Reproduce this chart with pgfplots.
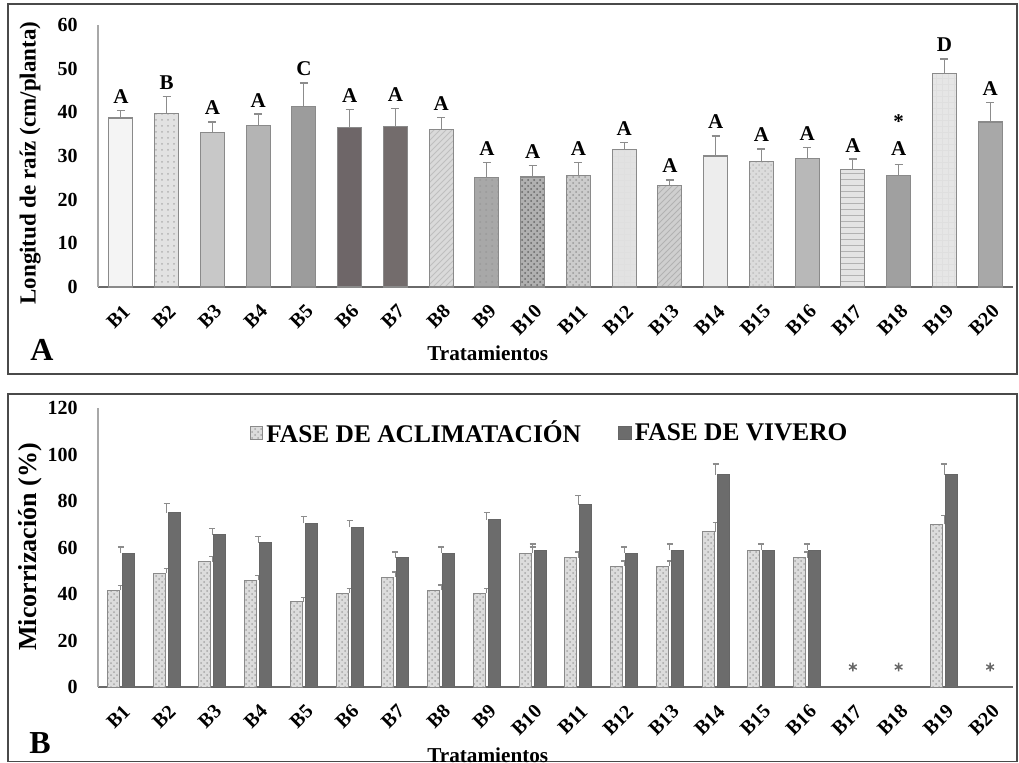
\documentclass[border=0pt]{standalone}
\usepackage{fontspec}
\setmainfont{Liberation Serif}
\usepackage{pgfplots}
\pgfplotsset{compat=1.18}
\usetikzlibrary{patterns}
\definecolor{framec}{HTML}{4A4A4A}
\definecolor{barline}{HTML}{8A8A8A}
\definecolor{errc}{HTML}{8C8C8C}
\definecolor{xaxc}{HTML}{6A6A6A}
\definecolor{yaxc}{HTML}{A8A8A8}
\definecolor{c01}{HTML}{F4F4F4}
\definecolor{c02}{HTML}{E2E2E2}
\definecolor{c03}{HTML}{C8C8C8}
\definecolor{c04}{HTML}{B4B4B4}
\definecolor{c05}{HTML}{9C9C9C}
\definecolor{c06}{HTML}{6E6668}
\definecolor{c07}{HTML}{736C6C}
\definecolor{c08}{HTML}{DADADA}
\definecolor{c09}{HTML}{A8A8A8}
\definecolor{c10}{HTML}{B0B0B0}
\definecolor{c11}{HTML}{CCCCCC}
\definecolor{c12}{HTML}{E2E2E2}
\definecolor{c13}{HTML}{CFCFCF}
\definecolor{c14}{HTML}{EDEDED}
\definecolor{c15}{HTML}{DCDCDC}
\definecolor{c16}{HTML}{B8B8B8}
\definecolor{c17}{HTML}{E4E4E4}
\definecolor{c18}{HTML}{A0A0A0}
\definecolor{c19}{HTML}{E6E6E6}
\definecolor{c20}{HTML}{A8A8A8}
\definecolor{lightB}{HTML}{DCDCDC}
\definecolor{darkB}{HTML}{6C6C6C}
\pgfplotsset{
  panel/.style={
    scale only axis, width=457.5pt, xmin=0.5, xmax=20.5, ymin=0,
    axis x line*=bottom, axis y line*=left,
    x axis line style={xaxc, line width=0.8pt, -},
    y axis line style={yaxc, line width=0.6pt, -},
    major tick length=0pt,
    xtick={1,...,20},
    xticklabels={B1,B2,B3,B4,B5,B6,B7,B8,B9,B10,B11,B12,B13,B14,B15,B16,B17,B18,B19,B20},
    /pgf/number format/assume math mode=true,
    yticklabel style={font=\bfseries\fontsize{10}{12}\selectfont, inner sep=0pt, anchor=east, xshift=-10pt},
    xticklabel style={font=\bfseries\fontsize{10}{12}\selectfont, inner sep=0pt, xshift=3pt, yshift=-10.5pt, rotate=45, anchor=east},
    clip=false,
  },
  bA/.style={ybar, bar width=12pt, bar shift=0pt, draw=barline, line width=0.6pt,
    error bars/y dir=plus, error bars/y explicit,
    error bars/error bar style={errc, line width=0.6pt},
    error bars/error mark options={rotate=90, errc, mark size=2pt, line width=0.6pt}},
  bB/.style={ybar, bar width=6pt, line width=0.5pt,
    error bars/y dir=plus, error bars/y explicit,
    error bars/error bar style={errc, line width=0.6pt},
    error bars/error mark options={rotate=90, errc, mark size=1.5pt, line width=0.6pt}},
  sqlegend/.style={legend image code/.code={\draw[##1] (0pt,-3.2pt) rectangle (6.4pt,3.2pt);}},
}
\pgfplotstableread{
x light dark el ed
1 41.7 57.6 2.0 2.6
2 49.0 75.0 2.0 3.9
3 53.8 65.4 2.2 2.8
4 46.0 62.0 2.0 2.8
5 36.6 70.5 1.8 3.0
6 40.4 68.8 1.8 2.8
7 47.3 55.5 2.2 2.6
8 41.7 57.6 2.2 2.6
9 40.4 72.0 1.8 3.0
10 57.6 58.9 2.6 2.6
11 55.5 78.3 2.6 3.9
12 52.0 57.6 2.2 2.6
13 52.0 58.9 2.2 2.6
14 66.7 91.2 3.9 4.7
15 58.9 58.9 2.6 2.6
16 55.5 58.9 2.6 2.6
19 70.0 91.2 3.9 4.7
}\micB
\begin{document}
\begin{tikzpicture}
\path[use as bounding box] (0,0) rectangle (509.5pt,-381pt);
\draw[framec, line width=0.8pt] (4pt,-2pt) rectangle (508.5pt,-187pt);
\draw[framec, line width=0.8pt] (4pt,-197pt) rectangle (508.5pt,-380.8pt);
\node[font=\bfseries\fontsize{16}{16}\selectfont] at (21pt,-175pt) {A};
\node[font=\bfseries\fontsize{16}{16}\selectfont] at (20pt,-371.5pt) {B};
% ---------------- Panel A ----------------
\begin{axis}[panel, at={(49pt,-143.5pt)}, anchor=south west,
  height=131pt, ymax=60, ytick={0,10,...,60},
  ylabel={Longitud de raíz (cm/planta)},
  xlabel={Tratamientos},
  every axis y label/.style={at={(axis description cs:-0.074,0.473)}, rotate=90, anchor=center, font=\bfseries\fontsize{11.5}{12}\selectfont},
  every axis x label/.style={at={(axis description cs:0.426,-0.252)}, anchor=center, font=\bfseries\fontsize{10.6}{12}\selectfont},
]
\addplot[bA, fill=c01] coordinates {(1,38.7) +- (0,1.8)};
\addplot[bA, fill=c02, postaction={pattern=dots, pattern color=gray!60}] coordinates {(2,39.8) +- (0,3.9)};
\addplot[bA, fill=c03] coordinates {(3,35.4) +- (0,2.4)};
\addplot[bA, fill=c04] coordinates {(4,37.0) +- (0,2.6)};
\addplot[bA, fill=c05] coordinates {(5,41.4) +- (0,5.3)};
\addplot[bA, fill=c06] coordinates {(6,36.6) +- (0,4.1)};
\addplot[bA, fill=c07] coordinates {(7,36.8) +- (0,4.1)};
\addplot[bA, fill=c08, postaction={pattern=north east lines, pattern color=gray!50}] coordinates {(8,36.1) +- (0,2.8)};
\addplot[bA, fill=c09, postaction={pattern=dots, pattern color=gray!80}] coordinates {(9,25.0) +- (0,3.6)};
\addplot[bA, fill=c10, postaction={pattern=crosshatch dots, pattern color=black!60}] coordinates {(10,25.2) +- (0,2.7)};
\addplot[bA, fill=c11, postaction={pattern=crosshatch dots, pattern color=gray!80}] coordinates {(11,25.6) +- (0,3.0)};
\addplot[bA, fill=c12, postaction={pattern=grid, pattern color=gray!25}] coordinates {(12,31.5) +- (0,1.6)};
\addplot[bA, fill=c13, postaction={pattern=north east lines, pattern color=gray!60}] coordinates {(13,23.3) +- (0,1.2)};
\addplot[bA, fill=c14] coordinates {(14,30.0) +- (0,4.6)};
\addplot[bA, fill=c15, postaction={pattern=crosshatch dots, pattern color=gray!50}] coordinates {(15,28.7) +- (0,2.9)};
\addplot[bA, fill=c16] coordinates {(16,29.4) +- (0,2.6)};
\addplot[bA, fill=c17, postaction={pattern=horizontal lines, pattern color=gray!60}] coordinates {(17,27.0) +- (0,2.3)};
\addplot[bA, fill=c18] coordinates {(18,25.6) +- (0,2.5)};
\addplot[bA, fill=c19, postaction={pattern=grid, pattern color=gray!25}] coordinates {(19,48.9) +- (0,3.3)};
\addplot[bA, fill=c20] coordinates {(20,37.8) +- (0,4.5)};
\addplot[draw=none, mark=none, nodes near coords, point meta=explicit symbolic,
  every node near coord/.style={anchor=south, yshift=0pt, font=\bfseries\fontsize{10.5}{12}\selectfont}]
  coordinates {
  (1,40.5) [A] (2,43.7) [B] (3,37.8) [A] (4,39.6) [A] (5,46.7) [C]
  (6,40.7) [A] (7,40.9) [A] (8,38.9) [A] (9,28.6) [A] (10,27.9) [A]
  (11,28.6) [A] (12,33.1) [A] (13,24.5) [A] (14,34.6) [A] (15,31.6) [A]
  (16,32.0) [A] (17,29.3) [A] (18,28.6) [A] (19,52.2) [D] (20,42.3) [A]
  (18,34.6) [*]
  };
\end{axis}
% ---------------- Panel B ----------------
\begin{axis}[panel, at={(49pt,-343.5pt)}, anchor=south west,
  height=139.5pt, ymax=120, ytick={0,20,...,120},
  ylabel={Micorrización (\%)},
  xlabel={Tratamientos},
  every axis y label/.style={at={(axis description cs:-0.074,0.502)}, rotate=90, anchor=center, font=\bfseries\fontsize{13}{14}\selectfont},
  every axis x label/.style={at={(axis description cs:0.426,-0.245)}, anchor=center, font=\bfseries\fontsize{10.6}{12}\selectfont},
  legend style={at={(axis description cs:0.494,0.91)}, anchor=center, draw=none, fill=none,
    legend columns=2, font=\bfseries\fontsize{12.7}{14}\selectfont,
    /tikz/every even column/.append style={column sep=17pt},
    nodes={inner sep=1.5pt}},
]
\addplot[bB, sqlegend, bar shift=-3.75pt, fill=lightB, draw=barline, postaction={pattern=crosshatch dots, pattern color=gray!70}]
  table[x=x, y=light, y error=el] {\micB};
\addlegendentry{FASE DE ACLIMATACIÓN}
\addplot[bB, sqlegend, bar shift=3.75pt, fill=darkB, draw=black!60]
  table[x=x, y=dark, y error=ed] {\micB};
\addlegendentry{FASE DE VIVERO}
\addplot[only marks, mark=asterisk, mark size=2.2pt, color=gray!80!black, line width=0.7pt, forget plot]
  coordinates {(17,8.6) (18,8.6) (20,8.6)};
\end{axis}
\end{tikzpicture}
\end{document}
